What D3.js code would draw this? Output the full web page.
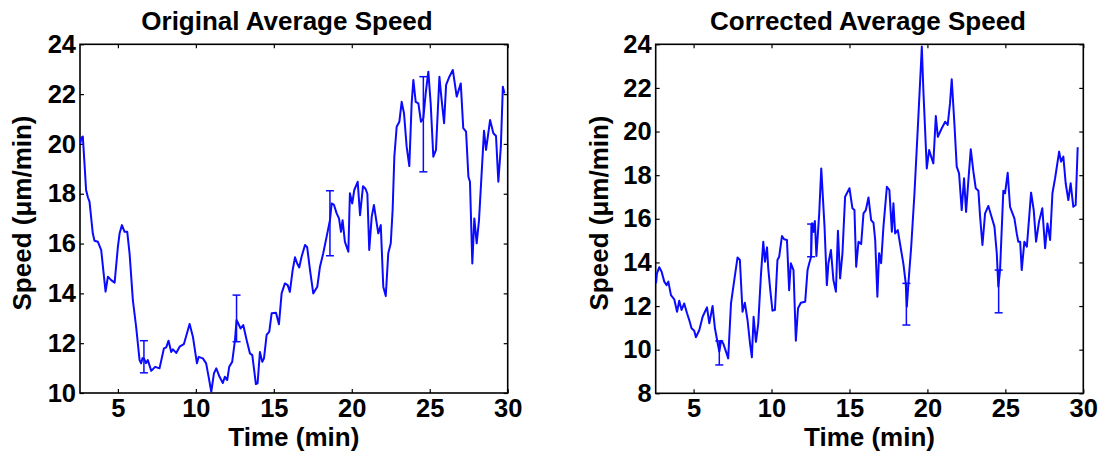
<!DOCTYPE html>
<html>
<head>
<meta charset="utf-8">
<script src="https://cdn.jsdelivr.net/npm/d3@7"></script>
<style>
  body { margin: 0; background: #fff; }
  svg text { font-family: "Liberation Sans", Arial, sans-serif; font-weight: bold; fill: #000; }
</style>
</head>
<body>
<div id="chart"></div>
<script>
// Data
const xTicks = [5, 10, 15, 20, 25, 30];
const origYTicks = [10, 12, 14, 16, 18, 20, 22, 24];
const corrYTicks = [8, 10, 12, 14, 16, 18, 20, 22, 24];

const origTime = [2.58, 2.66, 2.75, 2.86, 2.96, 3.08, 3.18, 3.39, 3.5, 3.72, 3.93, 4.04, 4.21, 4.36, 4.57, 4.79,
  5.0, 5.11, 5.26, 5.43, 5.6, 5.75, 5.96, 6.17, 6.39, 6.49, 6.58, 6.67, 6.8, 6.92, 7.14, 7.39, 7.67, 7.95,
  8.1, 8.25, 8.42, 8.53, 8.74, 8.96, 9.23, 9.6, 9.81, 10.07, 10.18, 10.45, 10.66, 10.82, 10.99, 11.16, 11.31,
  11.52, 11.73, 11.86, 12.01, 12.14, 12.33, 12.51, 12.61, 12.72, 12.87, 13.04, 13.26, 13.47, 13.62, 13.74,
  13.85, 13.96, 14.11, 14.26, 14.37, 14.54, 14.71, 14.86, 15.14, 15.33, 15.5, 15.71, 15.89, 16.03, 16.21,
  16.36, 16.5, 16.63, 16.78, 17.0, 17.14, 17.32, 17.53, 17.79, 17.96, 18.17, 18.43, 18.6, 18.71, 18.86,
  19.03, 19.18, 19.31, 19.41, 19.56, 19.78, 19.88, 20.03, 20.16, 20.38, 20.53, 20.72, 20.88, 21.0, 21.12,
  21.28, 21.42, 21.6, 21.7, 21.86, 22.02, 22.18, 22.34, 22.5, 22.62, 22.73, 22.88, 23.05, 23.2, 23.35,
  23.52, 23.69, 23.84, 23.95, 24.1, 24.27, 24.44, 24.59, 24.74, 24.91, 25.06, 25.23, 25.4, 25.62, 25.72,
  25.92, 26.05, 26.26, 26.48, 26.73, 26.99, 27.15, 27.33, 27.48, 27.58, 27.73, 27.86, 28.01, 28.16, 28.4,
  28.48, 28.61, 28.87, 29.08, 29.25, 29.4, 29.56, 29.69, 29.79];
const origSpeed = [20.0, 20.25, 20.3, 19.2, 18.15, 17.85, 17.68, 16.41, 16.11, 16.07, 15.74, 15.07, 14.07, 14.67, 14.53, 14.43,
  15.87, 16.41, 16.74, 16.47, 16.47, 15.6, 13.73, 12.66, 11.32, 11.19, 11.4, 11.39, 11.2, 11.32, 10.89, 11.05, 10.99, 11.79,
  11.83, 12.1, 11.65, 11.75, 11.61, 11.86, 11.96, 12.77, 12.26, 11.19, 11.45, 11.39, 11.19, 10.65, 10.05, 10.79, 10.99,
  10.65, 10.4, 10.65, 10.52, 11.05, 11.25, 12.12, 12.93, 12.79, 12.59, 12.73, 12.12, 11.59, 11.52, 10.92,
  10.36, 10.39, 11.65, 11.25, 11.39, 12.33, 12.46, 13.2, 13.22, 12.76, 14.0, 14.4, 14.33, 14.06, 14.94,
  15.45, 15.2, 15.04, 15.47, 15.94, 15.85, 14.94, 14.0, 14.27, 15.07, 15.61, 16.41, 16.94, 17.61, 17.55,
  17.21, 17.01, 16.47, 16.94, 16.07, 15.67, 18.02, 17.61, 18.15, 18.48, 17.14, 18.3, 18.2, 18.0, 15.74,
  17.08, 17.55, 16.81, 16.41, 16.74, 14.27, 13.89, 15.61, 16.01, 17.35, 19.49, 20.69, 20.89, 21.69, 21.23,
  19.89, 19.11, 21.63, 22.57, 21.69, 21.63, 20.89, 21.03, 22.03, 22.9, 21.63, 19.49, 19.76, 22.7, 22.03,
  20.83, 22.37, 22.7, 22.97, 21.9, 22.43, 20.63, 20.49, 18.68, 18.48, 15.2, 17.01, 16.01, 16.94, 19.62,
  20.53, 19.76, 20.96, 20.43, 20.32, 18.48, 19.89, 22.3, 22.03];

const corrTime = [2.59, 2.65, 2.8, 2.95, 3.12, 3.27, 3.38, 3.55, 3.76, 3.94, 4.08, 4.23, 4.4, 4.58, 4.72, 4.87, 5.04,
  5.15, 5.37, 5.58, 5.86, 6.01, 6.22, 6.37, 6.54, 6.65, 6.76, 6.9, 7.08, 7.22, 7.4, 7.61, 7.82, 7.97, 8.14,
  8.29, 8.46, 8.62, 8.74, 8.85, 9.0, 9.15, 9.32, 9.47, 9.58, 9.71, 9.79, 9.92, 10.06, 10.22, 10.38, 10.49,
  10.67, 10.81, 10.99, 11.13, 11.24, 11.41, 11.56, 11.7, 11.88, 12.16, 12.31, 12.42, 12.54, 12.6, 12.7,
  12.78, 12.88, 13.06, 13.19, 13.4, 13.55, 13.65, 13.81, 13.97, 14.13, 14.26, 14.4, 14.55, 14.72, 15.0,
  15.19, 15.32, 15.43, 15.58, 15.75, 15.9, 16.05, 16.22, 16.39, 16.54, 16.65, 16.79, 16.9, 17.03, 17.18,
  17.4, 17.56, 17.72, 17.82, 17.93, 18.1, 18.31, 18.46, 18.61, 18.68, 18.78, 18.96, 19.17, 19.42, 19.6,
  19.64, 19.74, 19.96, 20.11, 20.24, 20.38, 20.54, 20.67, 20.92, 21.14, 21.3, 21.45, 21.56, 21.73, 21.88,
  22.03, 22.2, 22.35, 22.48, 22.63, 22.78, 22.95, 23.1, 23.27, 23.38, 23.53, 23.7, 23.91, 24.08, 24.3,
  24.45, 24.55, 24.66, 24.87, 24.98, 25.15, 25.3, 25.58, 25.73, 25.83, 25.95, 26.05, 26.22, 26.38, 26.65,
  26.82, 26.97, 27.16, 27.37, 27.55, 27.7, 27.87, 28.02, 28.19, 28.45, 28.57, 28.72, 28.87, 29.04, 29.19,
  29.36, 29.51, 29.64];
const corrSpeed = [13.04, 13.5, 13.78, 13.57, 13.12, 12.96, 13.12, 12.5, 12.31, 11.74, 12.24, 11.82, 12.12, 11.67, 11.36, 10.98, 10.87,
  10.57, 10.9, 11.51, 11.94, 11.21, 12.0, 10.98, 10.32, 9.91, 10.41, 10.29, 9.91, 9.6, 12.12, 13.19, 14.23, 14.11, 11.74,
  12.15, 11.36, 10.29, 9.65, 11.51, 10.36, 11.21, 13.42, 14.95, 14.03, 14.69, 13.73, 12.73, 11.79, 11.82, 14.11, 14.26,
  15.21, 15.06, 15.03, 12.73, 13.96, 13.65, 10.41, 11.9, 12.15, 12.2, 13.65, 13.96, 14.26, 15.8, 15.4,
  15.9, 14.3, 16.25, 18.31, 15.64, 12.96, 13.96, 14.57, 13.19, 12.66, 15.45, 13.27, 14.42, 17.01, 17.4,
  16.48, 16.4, 13.8, 14.95, 14.84, 16.25, 16.4, 16.98, 15.94, 15.82, 15.03, 12.43, 14.42, 13.96, 15.64,
  17.47, 17.32, 15.41, 16.71, 15.33, 15.48, 14.57, 13.93, 13.04, 11.97, 13.04, 14.72, 17.17, 20.68, 23.28,
  23.9, 21.9, 18.31, 19.15, 18.85, 18.54, 20.71, 19.76, 20.15, 20.45, 20.3, 21.29, 22.4, 20.38, 18.39,
  18.08, 16.4, 17.86, 16.32, 17.78, 19.19, 18.16, 17.4, 17.29, 16.1, 14.8, 16.25, 16.59, 16.17, 15.64,
  14.42, 12.89, 13.65, 17.29, 17.17, 18.11, 16.55, 16.02, 15.33, 14.95, 14.95, 13.65, 14.95, 14.72, 17.2,
  16.4, 14.95, 15.87, 16.48, 14.65, 15.79, 15.03, 17.17, 17.86, 19.08, 18.62, 18.85, 17.63, 16.86, 17.63,
  16.55, 16.63, 19.28];

const origErrTime = [6.67, 12.61, 18.6, 24.59];
const origErrLow = [10.81, 12.06, 15.51, 18.88];
const origErrHigh = [12.1, 13.93, 18.12, 22.7];

const corrErrTime = [6.65, 12.54, 18.65, 24.57];
const corrErrLow = [9.3, 14.26, 11.13, 11.69];
const corrErrHigh = [10.4, 15.76, 13.04, 13.65];

// Dimensions
const dimensions = { width: 1102, height: 453 };
const xMin = 2.57;
const lineColor = '#0a0aff';

const svg = d3.select('#chart')
  .append('svg')
  .attr('width', dimensions.width)
  .attr('height', dimensions.height);

function drawPanel(p) {
  const w = p.right - p.left;
  const h = p.bottom - p.top;

  const container = svg.append('g')
    .attr('transform', `translate(${p.left}, ${p.top})`);

  // Scales
  const xScale = d3.scaleLinear().domain([xMin, 30]).range([0, w]);
  const yScale = d3.scaleLinear().domain(p.yDomain).range([h, 0]);

  // clip
  container.append('clipPath').attr('id', p.id + '-clip')
    .append('rect').attr('width', w).attr('height', h);

  // Axes (ticks inward, MATLAB style)
  const xAxisGroup = container.append('g').attr('transform', `translate(0, ${h})`)
    .call(d3.axisBottom(xScale).tickValues(xTicks).tickSizeInner(-4).tickSizeOuter(0).tickPadding(6));
  const xTopGroup = container.append('g')
    .call(d3.axisTop(xScale).tickValues(xTicks).tickSizeInner(-4).tickSizeOuter(0).tickFormat(''));
  const yAxisGroup = container.append('g')
    .call(d3.axisLeft(yScale).tickValues(p.yTicks).tickSizeInner(-4).tickSizeOuter(0).tickPadding(4));
  const yRightGroup = container.append('g').attr('transform', `translate(${w}, 0)`)
    .call(d3.axisRight(yScale).tickValues(p.yTicks).tickSizeInner(-4).tickSizeOuter(0).tickFormat(''));

  [xAxisGroup, xTopGroup, yAxisGroup, yRightGroup].forEach(g => {
    g.select('.domain').remove();
    g.selectAll('.tick line').attr('stroke', '#000').attr('stroke-width', 1.2);
    g.selectAll('.tick text').style('font-size', '25.5px').attr('fill', '#000');
  });

  container.append('rect')
    .attr('width', w).attr('height', h)
    .attr('fill', 'none').attr('stroke', '#000').attr('stroke-width', 1.6);

  // Line
  const data = p.time.map((t, i) => ({ t: t, v: p.speed[i] }));
  const line = d3.line().x(d => xScale(d.t)).y(d => yScale(d.v));
  container.append('path')
    .datum(data)
    .attr('clip-path', `url(#${p.id}-clip)`)
    .attr('fill', 'none')
    .attr('stroke', lineColor)
    .attr('stroke-width', 2)
    .attr('stroke-linejoin', 'round')
    .attr('d', line);

  // Error bars
  const errs = p.errTime.map((t, i) => ({ t: t, lo: p.errLow[i], hi: p.errHigh[i] }));
  const eb = container.append('g').attr('stroke', lineColor).attr('stroke-width', 1.5);
  eb.selectAll('line.v').data(errs).join('line').attr('class', 'v')
    .attr('x1', d => xScale(d.t)).attr('x2', d => xScale(d.t))
    .attr('y1', d => yScale(d.lo)).attr('y2', d => yScale(d.hi));
  eb.selectAll('line.lo').data(errs).join('line').attr('class', 'lo')
    .attr('x1', d => xScale(d.t) - 4).attr('x2', d => xScale(d.t) + 4)
    .attr('y1', d => yScale(d.lo)).attr('y2', d => yScale(d.lo));
  eb.selectAll('line.hi').data(errs).join('line').attr('class', 'hi')
    .attr('x1', d => xScale(d.t) - 4).attr('x2', d => xScale(d.t) + 4)
    .attr('y1', d => yScale(d.hi)).attr('y2', d => yScale(d.hi));

  // Labels
  svg.append('text')
    .attr('x', p.titleX).attr('y', 30)
    .attr('text-anchor', 'middle')
    .style('font-size', '26px')
    .text(p.title);

  svg.append('text')
    .attr('x', p.left + w / 2).attr('y', 446)
    .attr('text-anchor', 'middle')
    .style('font-size', '26px')
    .text('Time (min)');

  svg.append('text')
    .attr('transform', `translate(${p.yLabelX}, 213) rotate(-90)`)
    .attr('text-anchor', 'middle')
    .style('font-size', '26px')
    .text('Speed (μm/min)');
}

drawPanel({
  id: 'orig', title: 'Original Average Speed', titleX: 287,
  left: 80, right: 507.7, top: 44.3, bottom: 393,
  yDomain: [10, 24], yTicks: origYTicks, yLabelX: 31,
  time: origTime, speed: origSpeed,
  errTime: origErrTime, errLow: origErrLow, errHigh: origErrHigh
});

drawPanel({
  id: 'corr', title: 'Corrected Average Speed', titleX: 868,
  left: 655.7, right: 1083.3, top: 44.3, bottom: 393.3,
  yDomain: [8, 24], yTicks: corrYTicks, yLabelX: 608,
  time: corrTime, speed: corrSpeed,
  errTime: corrErrTime, errLow: corrErrLow, errHigh: corrErrHigh
});
</script>
</body>
</html>
